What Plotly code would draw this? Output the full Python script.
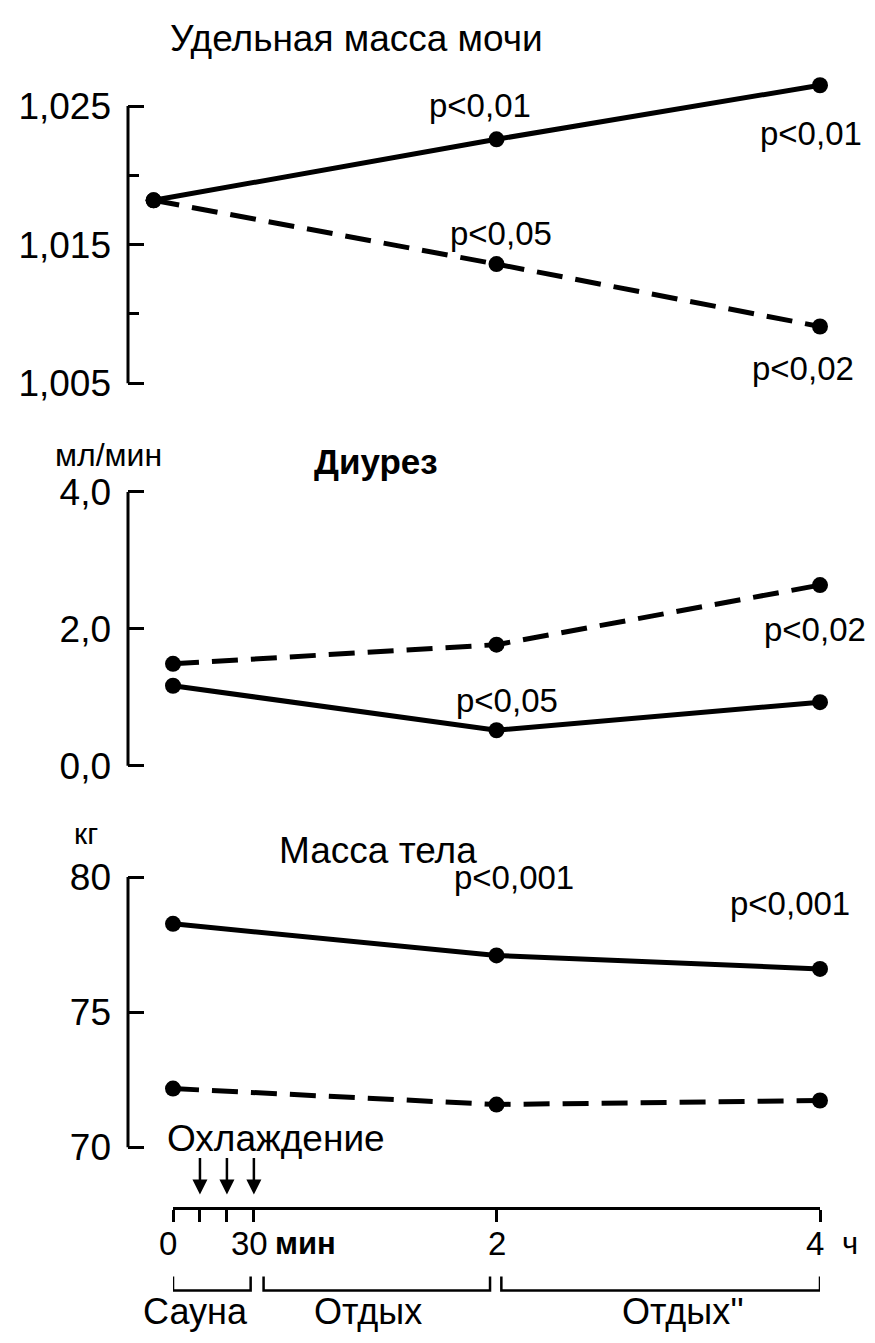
import plotly.graph_objects as go

W, H = 875, 1343

# ---------------- data ----------------
hours = [0, 2, 4]
urine_x = [-0.12, 2, 4]
urine_solid = [1.0182, 1.0226, 1.0265]
urine_dash = [1.0182, 1.0136, 1.0091]
diur_solid = [1.17, 0.52, 0.93]
diur_dash = [1.49, 1.77, 2.64]
mass_solid = [78.27, 77.1, 76.6]
mass_dash = [72.17, 71.58, 71.73]

urine_ticks = [1.005, 1.015, 1.025]
urine_ticktext = ["1,005", "1,015", "1,025"]
urine_minor = [1.010, 1.020]
diur_ticks = [0, 2, 4]
diur_ticktext = ["0,0", "2,0", "4,0"]
mass_ticks = [70, 75, 80]
mass_ticktext = ["70", "75", "80"]

time_ticks = [0, 1/6, 1/3, 0.5, 2, 4]
cool_marks = [1/6, 1/3, 0.5]
phases = [("Сауна", 0.0, 0.48), ("Отдых", 0.56, 1.96), ("Отдых''", 2.03, 4.0)]

FONT = "Liberation Sans"
PXH = 161.75  # pixels per hour
X0 = 173      # pixel of t=0

def py(p):
    return 1 - p / H

fig = go.Figure()

line_w = 5
mk = dict(size=16, color="black")
dash = "26px,13px"

def add_pair(xs_s, ys_s, xs_d, ys_d, xa, ya):
    fig.add_trace(go.Scatter(x=xs_s, y=ys_s, mode="lines+markers", xaxis=xa, yaxis=ya,
                             line=dict(color="black", width=line_w), marker=mk,
                             showlegend=False, cliponaxis=False, hoverinfo="skip"))
    fig.add_trace(go.Scatter(x=xs_d, y=ys_d, mode="lines+markers", xaxis=xa, yaxis=ya,
                             line=dict(color="black", width=line_w, dash=dash), marker=mk,
                             showlegend=False, cliponaxis=False, hoverinfo="skip"))

add_pair(urine_x, urine_solid, urine_x, urine_dash, "x", "y")
add_pair(hours, diur_solid, hours, diur_dash, "x2", "y2")
add_pair(hours, mass_solid, hours, mass_dash, "x3", "y3")

AX = 128
xdom = [AX / W, 870 / W]
xrange_ = [(AX - X0) / PXH, (870 - X0) / PXH]
hidden_x = dict(domain=xdom, range=xrange_, visible=False, fixedrange=True)

tickfont = dict(family=FONT, size=37, color="black")
ycommon = dict(showline=False, showgrid=False, zeroline=False, ticks="inside",
               ticklen=16, tickwidth=3, tickcolor="black", tickfont=tickfont,
               ticklabelstandoff=16, fixedrange=True)

fig.update_layout(
    width=W, height=H, margin=dict(l=0, r=0, t=0, b=0),
    paper_bgcolor="white", plot_bgcolor="rgba(0,0,0,0)",
    xaxis=dict(hidden_x, anchor="y"),
    xaxis2=dict(hidden_x, anchor="y2"),
    xaxis3=dict(hidden_x, anchor="y3"),
    xaxis4=dict(domain=[X0 / W, 820 / W], range=[0, 4], anchor="free", position=py(1214),
                showline=True, linewidth=3, linecolor="black", showgrid=False, zeroline=False,
                ticks="outside", ticklen=12, tickwidth=3, tickcolor="black",
                tickvals=time_ticks, showticklabels=False, fixedrange=True),
    yaxis=dict(ycommon, domain=[py(402), py(59)], range=[1.0035, 1.028], anchor="x",
               tickvals=urine_ticks, ticktext=urine_ticktext,
               minor=dict(tickvals=urine_minor, ticks="inside", ticklen=11, tickwidth=3,
                          tickcolor="black", showgrid=False)),
    yaxis2=dict(ycommon, domain=[py(788), py(470)], range=[-0.3, 4.3], anchor="x2",
                tickvals=diur_ticks, ticktext=diur_ticktext),
    yaxis3=dict(ycommon, domain=[py(1166), py(866)], range=[69.5, 80.5], anchor="x3",
                tickvals=mass_ticks, ticktext=mass_ticktext),
)

# vertical axis lines spanning only the tick range
shapes = []
for ya, lo, hi in [("y", urine_ticks[0], urine_ticks[-1]),
                   ("y2", diur_ticks[0], diur_ticks[-1]),
                   ("y3", mass_ticks[0], mass_ticks[-1])]:
    shapes.append(dict(type="line", xref="paper", yref=ya, x0=xdom[0], x1=xdom[0],
                       y0=lo, y1=hi, line=dict(color="black", width=3)))

# phase brackets
yb_top, yb_bot = py(1283), py(1297)
for name, a, b in phases:
    shapes.append(dict(type="path", xref="x4", yref="paper",
                       path=f"M {a},{yb_top} L {a},{yb_bot} L {b},{yb_bot} L {b},{yb_top}",
                       line=dict(color="black", width=2.5)))
fig.update_layout(shapes=shapes)

ann = []
def txt(text, x, y, size=33, xref="paper", yref="paper", xanchor="center", weight="normal"):
    ann.append(dict(text=text, x=x, y=y, xref=xref, yref=yref, showarrow=False,
                    xanchor=xanchor, yanchor="middle",
                    font=dict(family=FONT, size=size, color="black", weight=weight)))

# titles and units
txt("Удельная масса мочи", 168 / W, py(33), size=37, xanchor="left")
txt("мл/мин", 53 / W, py(453), size=32, xanchor="left")
txt("Диурез", 312 / W, py(460), size=35, xanchor="left", weight="bold")
txt("кг", 72 / W, py(836), size=30, xanchor="left")
txt("Масса тела", 277 / W, py(853), size=37, xanchor="left")

# p-values (x in hours, y in page pixels)
def ptxt(text, xh, ypx, xa):
    txt(text, xh, py(ypx), size=33, xref=xa)

ptxt("p<0,01", 1.9, 100, "x")
ptxt("p<0,01", (811 - X0) / PXH, 129, "x")
ptxt("p<0,05", (501 - X0) / PXH, 230, "x")
ptxt("p<0,02", (803 - X0) / PXH, 366, "x")
ptxt("p<0,02", (815 - X0) / PXH, 630, "x2")
ptxt("p<0,05", (507 - X0) / PXH, 701, "x2")
ptxt("p<0,001", (514 - X0) / PXH, 880, "x3")
ptxt("p<0,001", (790 - X0) / PXH, 906, "x3")

# time axis labels
txt("Охлаждение", 165 / W, py(1144), size=37, xanchor="left")
txt("0", 168 / W, py(1250), size=33)
txt("30", 0.47, py(1250), size=33, xref="x4")
txt("мин", (273 - X0) / PXH, py(1250), size=31, xref="x4", xanchor="left", weight="bold")
txt("2", 2, py(1250), size=33, xref="x4")
txt("4", 3.97, py(1250), size=33, xref="x4")
txt("ч", 850 / W, py(1250), size=31)
label_px = {"Сауна": 195, "Отдых": 368, "Отдых''": 683}
for name, a, b in phases:
    txt(name, (label_px[name] - X0) / PXH, py(1318), size=36, xref="x4")

# cooling arrows
for t in cool_marks:
    ann.append(dict(x=t, y=py(1200), xref="x4", yref="paper", ax=0, ay=-38,
                    axref="pixel", ayref="pixel", text="", showarrow=True,
                    arrowhead=2, arrowsize=1.2, arrowwidth=2.5, arrowcolor="black"))

fig.update_layout(annotations=ann)
fig.write_html("out.html")
